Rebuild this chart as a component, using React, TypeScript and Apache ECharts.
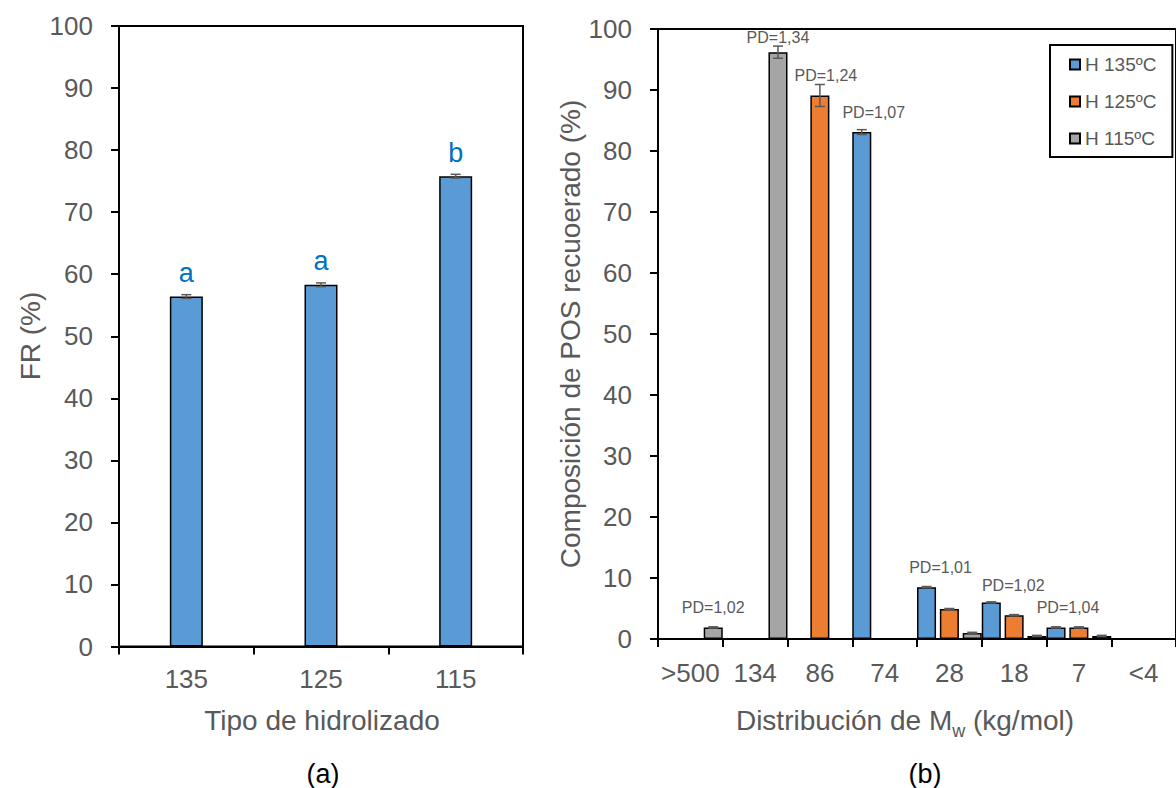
import React, { useEffect, useRef } from 'react';
import * as echarts from 'echarts';

// ---- Chart (a) data ----
const frCategories = ['135', '125', '115'];
const frValues = [56.4, 58.3, 75.8];
const frErrors = [0.3, 0.3, 0.3];
const frLetters = ['a', 'a', 'b'];

// ---- Chart (b) data ----
const mwCategories = ['>500', '134', '86', '74', '28', '18', '7', '<4'];
const seriesNames = ['H 135ºC', 'H 125ºC', 'H 115ºC'];
const h135 = [null, null, null, 83.1, 8.5, 6.0, 1.9, null];
const h125 = [null, null, 89.1, null, 4.9, 3.9, 1.9, null];
const h115 = [1.9, 96.2, null, null, 1.0, 0.5, 0.5, null];
const h135Err = [null, null, null, 0.4, 0.1, 0.1, 0.1, null];
const h125Err = [null, null, 1.8, null, 0.1, 0.1, 0.1, null];
const h115Err = [0.1, 1.0, null, null, 0.1, 0.1, 0.1, null];
const h135PD = [null, null, null, '1,07', '1,01', '1,02', '1,04', null];
const h125PD = [null, null, '1,24', null, null, null, null, null];
const h115PD = ['1,02', '1,34', null, null, null, null, null, null];

// label nudges (style only, px: [dx, dy up])
const h135Nudge = [null, null, null, [12, 0], [14, 0], [22, -3], [12, 0], null];
const h125Nudge = [null, null, [6, 0], null, null, null, null, null];
const h115Nudge = [[0, 0], [0, -5], null, null, null, null, null, null];

const FONT = "'Liberation Sans', Arial, sans-serif";
const GRAY_TXT = '#595959';
const COLORS = ['#5B9BD5', '#ED7D31', '#A5A5A5'];

function errorRenderer(slot: number, slots: number, gapRatio: number) {
  return (params: any, api: any) => {
    const xi = api.value(0);
    const lo = api.value(1);
    const hi = api.value(2);
    const cw = api.size([1, 0])[0];
    const bw = cw / (slots + (slots - 1) * gapRatio);
    const step = bw * (1 + gapRatio);
    const off = slots > 1 ? (slot - (slots - 1) / 2) * step : 0;
    const p1 = api.coord([xi, lo]);
    const p2 = api.coord([xi, hi]);
    const x = p1[0] + off;
    const cap = 5;
    const st = { stroke: GRAY_TXT, lineWidth: 1.5 };
    return {
      type: 'group',
      children: [
        { type: 'line', shape: { x1: x, y1: p1[1], x2: x, y2: p2[1] }, style: st },
        { type: 'line', shape: { x1: x - cap, y1: p1[1], x2: x + cap, y2: p1[1] }, style: st },
        { type: 'line', shape: { x1: x - cap, y1: p2[1], x2: x + cap, y2: p2[1] }, style: st },
      ],
    };
  };
}

function errData(vals: (number | null)[], errs: (number | null)[]) {
  const out: number[][] = [];
  vals.forEach((v, i) => {
    const e = errs[i];
    if (v != null && e != null) out.push([i, v - e, v + e]);
  });
  return out;
}

function barData(vals: (number | null)[], pds: (string | null)[], nudges: any[]) {
  return vals.map((v, i) => {
    if (v == null) return '-';
    const pd = pds[i];
    if (!pd) return v;
    return {
      value: v,
      label: {
        show: true,
        position: 'top',
        distance: 12,
        offset: nudges[i] ? [nudges[i][0], -nudges[i][1]] : [0, 0],
        formatter: 'PD=' + pd,
        color: GRAY_TXT,
        fontSize: 16,
        fontFamily: FONT,
      },
    };
  });
}

export default function App() {
  const ref = useRef<HTMLDivElement>(null);
  useEffect(() => {
    if (!ref.current) return;
    const chart = echarts.init(ref.current, null, { renderer: 'svg' });
    const axisLine = { show: true, lineStyle: { color: '#000', width: 2 } };
    const axisTick = { show: true, length: 8, lineStyle: { color: '#000', width: 2 } };
    const yAxisCommon = {
      type: 'value',
      min: 0,
      max: 100,
      interval: 10,
      axisLine,
      axisTick,
      splitLine: { show: false },
      axisLabel: { fontSize: 26, color: GRAY_TXT, fontFamily: FONT, margin: 26 },
    };
    const mwSeries = [h135, h125, h115];
    const mwErr = [h135Err, h125Err, h115Err];
    const mwPD = [h135PD, h125PD, h115PD];
    const mwNudge = [h135Nudge, h125Nudge, h115Nudge];

    const option: any = {
      animation: false,
      backgroundColor: '#fff',
      textStyle: { fontFamily: FONT },
      grid: [
        { left: 119, top: 26, width: 404, height: 620.5, show: true, borderColor: '#000', borderWidth: 2, containLabel: false },
        { left: 658, top: 29, width: 532, height: 610, show: true, borderColor: '#000', borderWidth: 2, containLabel: false },
      ],
      xAxis: [
        {
          type: 'category', gridIndex: 0, data: frCategories,
          axisLine, axisTick: { ...axisTick, interval: 0 },
          axisLabel: { fontSize: 26, color: GRAY_TXT, fontFamily: FONT, margin: 19 },
        },
        {
          type: 'category', gridIndex: 1, data: mwCategories,
          axisLine, axisTick: { ...axisTick, interval: 0 },
          axisLabel: { fontSize: 26, color: GRAY_TXT, fontFamily: FONT, margin: 21, interval: 0 },
        },
      ],
      yAxis: [
        { ...yAxisCommon, gridIndex: 0 },
        { ...yAxisCommon, gridIndex: 1 },
      ],
      legend: {
        show: true,
        data: seriesNames,
        orient: 'vertical',
        left: 1050,
        top: 45,
        padding: [10, 16, 9, 19],
        itemGap: 18,
        itemWidth: 10,
        itemHeight: 10,
        itemTextGap: 3,
        icon: 'rect',
        borderColor: '#000',
        borderWidth: 2,
        backgroundColor: '#fff',
        textStyle: { fontSize: 19, color: GRAY_TXT, fontFamily: FONT },
      },
      series: [
        {
          name: 'FR',
          type: 'bar',
          xAxisIndex: 0,
          yAxisIndex: 0,
          data: frValues,
          barWidth: 33,
          itemStyle: { color: COLORS[0], borderColor: '#000', borderWidth: 1.5 },
          label: {
            show: true,
            position: 'top',
            distance: 10,
            formatter: (p: any) => frLetters[p.dataIndex],
            color: '#0070C0',
            fontSize: 27,
            fontFamily: FONT,
          },
          z: 2,
        },
        {
          type: 'custom',
          xAxisIndex: 0,
          yAxisIndex: 0,
          renderItem: errorRenderer(0, 1, 0),
          data: frValues.map((v, i) => [i, v - frErrors[i], v + frErrors[i]]),
          z: 5,
          silent: true,
        },
        ...mwSeries.map((vals, k) => ({
          name: seriesNames[k],
          type: 'bar',
          xAxisIndex: 1,
          yAxisIndex: 1,
          data: barData(vals, mwPD[k], mwNudge[k]),
          barCategoryGap: '0%',
          barGap: '20%',
          itemStyle: { color: COLORS[k], borderColor: '#000', borderWidth: 1.5 },
          z: 2,
        })),
        ...mwSeries.map((vals, k) => ({
          type: 'custom',
          xAxisIndex: 1,
          yAxisIndex: 1,
          renderItem: errorRenderer(k, 3, 0.2),
          data: errData(vals, mwErr[k]),
          z: 5,
          silent: true,
        })),
      ],
      graphic: [
        {
          type: 'text', x: 30, y: 336, rotation: Math.PI / 2,
          style: { text: 'FR (%)', fontSize: 28, fontFamily: FONT, fill: GRAY_TXT, align: 'center', verticalAlign: 'middle' },
        },
        {
          type: 'text', x: 570, y: 334, rotation: Math.PI / 2,
          style: { text: 'Composición de POS recuoerado (%)', fontSize: 28, fontFamily: FONT, fill: GRAY_TXT, align: 'center', verticalAlign: 'middle' },
        },
        {
          type: 'text', x: 322, y: 720,
          style: { text: 'Tipo de hidrolizado', fontSize: 28, fontFamily: FONT, fill: GRAY_TXT, align: 'center', verticalAlign: 'middle' },
        },
        {
          type: 'text', x: 905, y: 720,
          style: {
            text: '{m|Distribución de M}{s|w}{m| (kg/mol)}',
            align: 'center',
            verticalAlign: 'middle',
            rich: {
              m: { fontSize: 28, fontFamily: FONT, fill: GRAY_TXT },
              s: { fontSize: 18, fontFamily: FONT, fill: GRAY_TXT, verticalAlign: 'bottom', padding: [22, 0, 0, 0] },
            },
          },
        },
        {
          type: 'text', x: 323, y: 774,
          style: { text: '(a)', fontSize: 27, fontFamily: FONT, fill: '#000', align: 'center', verticalAlign: 'middle' },
        },
        {
          type: 'text', x: 925, y: 774,
          style: { text: '(b)', fontSize: 27, fontFamily: FONT, fill: '#000', align: 'center', verticalAlign: 'middle' },
        },
      ],
    };
    chart.setOption(option);
    return () => chart.dispose();
  }, []);
  return (
    <div
      ref={ref}
      style={{ position: 'fixed', left: 0, top: 0, width: 1176, height: 788, background: '#fff' }}
    />
  );
}
